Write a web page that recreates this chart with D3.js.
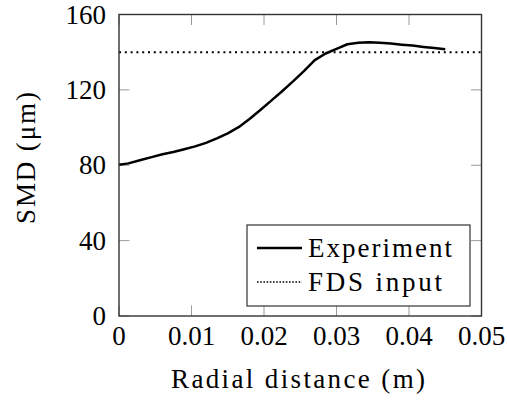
<!DOCTYPE html>
<html><head><meta charset="utf-8">
<script src="https://cdn.jsdelivr.net/npm/d3@7"></script>
<style>body{margin:0;background:#fff}svg{display:block}</style>
</head><body><svg id="c" width="507" height="400"></svg>
<script>
const radial = [0, 0.0013, 0.003, 0.0045, 0.006, 0.0075, 0.009, 0.0105, 0.012, 0.0135, 0.015, 0.0165, 0.018, 0.0195, 0.021, 0.0225, 0.024, 0.0255, 0.027, 0.0285, 0.030, 0.0315, 0.033, 0.0345, 0.036, 0.0375, 0.039, 0.0405, 0.042, 0.0435, 0.045];
const smdExp = [80.3, 81, 82.8, 84.3, 85.8, 87, 88.5, 90, 91.9, 94.3, 96.9, 100.2, 104.5, 109.3, 114.3, 119.3, 124.5, 130, 135.8, 139.3, 141.8, 144.2, 145, 145.3, 145, 144.6, 144, 143.5, 142.8, 142.2, 141.5];
const fdsInput = 140;
const xTicks = [0, 0.01, 0.02, 0.03, 0.04, 0.05];
const yTicks = [0, 40, 80, 120, 160];
const legendLabels = ["Experiment", "FDS input"];
const xTitle = "Radial distance (m)";
const yTitle = "SMD (" + String.fromCharCode(956) + "m)";

const svg = d3.select("#c");
const L = 119, R = 481.5, T = 14.5, B = 316;
const x = d3.scaleLinear().domain([0, 0.05]).range([L, R]);
const y = d3.scaleLinear().domain([0, 160]).range([B, T]);
function txt(sel) {
  return sel.append("text")
    .style("font-family", "'Liberation Serif'")
    .style("font-size", "27px");
}

const tk = 10.5;
const g = svg.append("g").attr("stroke", "#9a9a9a").attr("stroke-width", 1);
xTicks.forEach(v => {
  g.append("line").attr("x1", x(v)).attr("x2", x(v)).attr("y1", B).attr("y2", B - tk);
  g.append("line").attr("x1", x(v)).attr("x2", x(v)).attr("y1", T).attr("y2", T + tk);
});
yTicks.forEach(v => {
  g.append("line").attr("y1", y(v)).attr("y2", y(v)).attr("x1", L).attr("x2", L + tk);
  g.append("line").attr("y1", y(v)).attr("y2", y(v)).attr("x1", R).attr("x2", R - tk);
});

svg.append("line").attr("x1", L).attr("x2", R).attr("y1", y(fdsInput)).attr("y2", y(fdsInput))
  .attr("stroke", "#000").attr("stroke-width", 2).attr("stroke-dasharray", "2,3.8");
const line = d3.line().x((d, i) => x(radial[i])).y(d => y(d)).curve(d3.curveLinear);
svg.append("path").attr("d", line(smdExp)).attr("fill", "none").attr("stroke", "#000")
  .attr("stroke-width", 2.5).attr("stroke-linejoin", "round");

svg.append("rect").attr("x", L).attr("y", T).attr("width", R - L).attr("height", B - T)
  .attr("fill", "none").attr("stroke", "#333").attr("stroke-width", 1.4);

xTicks.forEach(v => {
  txt(svg).attr("x", x(v)).attr("y", 345).attr("text-anchor", "middle").text(d3.format("~g")(v));
});
yTicks.forEach(v => {
  txt(svg).attr("x", 106).attr("y", y(v) + 9).attr("text-anchor", "end").text(v);
});

txt(svg).attr("x", 298).attr("y", 388).attr("text-anchor", "middle")
  .attr("textLength", 254).attr("lengthAdjust", "spacing").text(xTitle);
txt(svg).attr("transform", "translate(35,158) rotate(-90)").attr("text-anchor", "middle")
  .attr("textLength", 132).attr("lengthAdjust", "spacing").text(yTitle);

const lg = svg.append("g");
lg.append("rect").attr("x", 247).attr("y", 225).attr("width", 223).attr("height", 81)
  .attr("fill", "#fff").attr("stroke", "#333").attr("stroke-width", 1.2);
lg.append("line").attr("x1", 257).attr("x2", 302).attr("y1", 248).attr("y2", 248)
  .attr("stroke", "#000").attr("stroke-width", 2.5);
lg.append("line").attr("x1", 257).attr("x2", 302).attr("y1", 282).attr("y2", 282)
  .attr("stroke", "#000").attr("stroke-width", 1.6).attr("stroke-dasharray", "1.6,1.6");
txt(lg).attr("x", 308).attr("y", 257).attr("textLength", 144).attr("lengthAdjust", "spacing").text(legendLabels[0]);
txt(lg).attr("x", 308).attr("y", 291).attr("textLength", 134).attr("lengthAdjust", "spacing").text(legendLabels[1]);
</script></body></html>
